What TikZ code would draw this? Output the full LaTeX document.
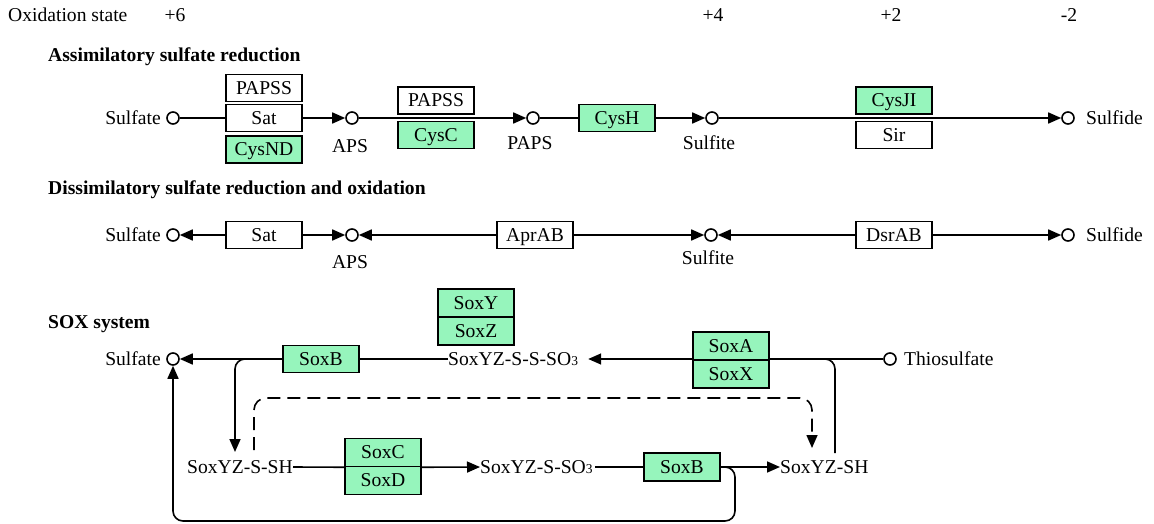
\documentclass[tikz,border=0pt]{standalone}
\usepackage{fontspec}
\setmainfont{Liberation Serif}
\usetikzlibrary{arrows.meta,backgrounds}
\definecolor{kgreen}{RGB}{150,245,188}
\newcommand{\sothree}{SO{\fontsize{13.5}{13.5}\selectfont 3}}
\begin{document}
\begin{tikzpicture}[x=1pt,y=-1pt,font=\fontsize{19.6}{22}\selectfont,
  lbl/.style={inner sep=0pt,text height=12.8pt,text depth=0pt},
  ttl/.style={inner sep=0pt,font=\fontsize{19.6}{22}\selectfont\bfseries,anchor=base west},
  box/.style={draw,line width=1.5pt,minimum width=76pt,minimum height=27pt,inner sep=0pt,text height=12.8pt,text depth=0pt},
  gbox/.style={box,fill=kgreen},
  wbox/.style={box,fill=white},
  met/.style={circle,draw,line width=1.6pt,minimum size=12pt,inner sep=0pt,fill=white},
  ln/.style={line width=1.6pt},
  arr/.style={ln,-{Triangle[length=13pt,width=11pt]}}]
\begin{scope}[on background layer]
\fill[white] (0,0) rectangle (1154,524);
\end{scope}
\useasboundingbox (0,0) rectangle (1154,524);

% oxidation states
\node[lbl,anchor=west] (ox) at (8,15) {Oxidation state};
\node[lbl] (o6) at (175,15) {+6};
\node[lbl] (o4) at (713,15) {+4};
\node[lbl] (o2) at (891,15) {+2};
\node[lbl] (om2) at (1069,15) {-2};

% ---------- Assimilatory ----------
\node[ttl] (t1) at (48,62) {Assimilatory sulfate reduction};
\node[met] (sulf1) at (173,118) {};
\node[lbl,anchor=east] (sulf1l) at (161,118) {Sulfate};
\node[wbox] (papss1) at (264,88) {PAPSS};
\node[wbox] (sat1) at (264,118) {Sat};
\node[gbox] (cysnd) at (264,149.5) {CysND};
\node[met] (aps1) at (352,118) {};
\node[lbl] (aps1l) at (350,146) {APS};
\node[wbox] (papss2) at (436,100.5) {PAPSS};
\node[gbox] (cysc) at (436,135) {CysC};
\node[met] (paps1) at (533,118) {};
\node[lbl] (paps1l) at (530,143) {PAPS};
\node[gbox] (cysh) at (617,118) {CysH};
\node[met] (sulfite1) at (712,118) {};
\node[lbl] (sulfite1l) at (709,143) {Sulfite};
\node[gbox] (cysji) at (894,100.5) {CysJI};
\node[wbox] (sir) at (894,135) {Sir};
\node[met] (sulfide1) at (1068,118) {};
\node[lbl,anchor=west] (sulfide1l) at (1086,118) {Sulfide};

\begin{scope}[on background layer]
\draw[ln] (sulf1.east) -- (sat1.west);
\draw[arr] (sat1.east) -- (aps1.west);
\draw[arr] (aps1.east) -- (paps1.west);
\draw[ln] (paps1.east) -- (cysh.west);
\draw[arr] (cysh.east) -- (sulfite1.west);
\draw[arr] (sulfite1.east) -- (sulfide1.west);
\end{scope}

% ---------- Dissimilatory ----------
\node[ttl] (t2) at (48,194) {Dissimilatory sulfate reduction and oxidation};
\node[met] (sulf2) at (173,235) {};
\node[lbl,anchor=east] (sulf2l) at (161,235) {Sulfate};
\node[wbox] (sat2) at (264,235) {Sat};
\node[met] (aps2) at (352,235) {};
\node[lbl] (aps2l) at (350,262) {APS};
\node[wbox] (apr) at (535,235) {AprAB};
\node[met] (sulfite2) at (711,235) {};
\node[lbl] (sulfite2l) at (708,258) {Sulfite};
\node[wbox] (dsr) at (894,235) {DsrAB};
\node[met] (sulfide2) at (1068,235) {};
\node[lbl,anchor=west] (sulfide2l) at (1086,235) {Sulfide};

\begin{scope}[on background layer]
\draw[arr] (sat2.west) -- (sulf2.east);
\draw[arr] (sat2.east) -- (aps2.west);
\draw[arr] (apr.west) -- (aps2.east);
\draw[arr] (apr.east) -- (sulfite2.west);
\draw[arr] (dsr.west) -- (sulfite2.east);
\draw[arr] (dsr.east) -- (sulfide2.west);
\end{scope}

% ---------- SOX ----------
\node[ttl] (t3) at (48,328) {SOX system};
\node[met] (sulf3) at (173,359) {};
\node[lbl,anchor=east] (sulf3l) at (161,359) {Sulfate};
\node[gbox] (soxb1) at (321,359) {SoxB};
\node[gbox,minimum height=28pt] (soxy) at (476,303) {SoxY};
\node[gbox,minimum height=28pt] (soxz) at (476,331) {SoxZ};
\node[lbl,anchor=west] (sssso) at (448,359) {SoxYZ-S-S-\sothree};
\node[gbox,minimum height=28pt] (soxa) at (731,346) {SoxA};
\node[gbox,minimum height=28pt] (soxx) at (731,374) {SoxX};
\node[met] (thio) at (890,359) {};
\node[lbl,anchor=west] (thiol) at (904,359) {Thiosulfate};

\node[lbl,anchor=east] (sssh) at (293,467) {SoxYZ-S-SH};
\node[gbox,minimum height=28pt] (soxc) at (383,452.5) {SoxC};
\node[gbox,minimum height=28pt] (soxd) at (383,480.5) {SoxD};
\node[lbl,anchor=west] (ssso) at (480,467) {SoxYZ-S-\sothree};
\node[gbox,minimum height=28pt] (soxb2) at (682,467) {SoxB};
\node[lbl,anchor=west] (ssh) at (780,467) {SoxYZ-SH};

\coordinate (br1) at (251,359);
\coordinate (tip1) at (235,452);
\coordinate (ds0) at (254,450);
\coordinate (ds1) at (812,398);
\coordinate (tip2) at (812,448);
\coordinate (br2) at (822,359);
\coordinate (end2) at (835,453);
\coordinate (lp) at (735,521);

\begin{scope}[on background layer]
\draw[ln] (sssso.west) -- (soxb1.east);
\draw[arr] (soxb1.west) -- (sulf3.east);
\draw[arr,rounded corners=10pt] (br1) -| (tip1);
\draw[arr] (thio.west) -- ([xshift=10pt]sssso.east);
\draw[ln,rounded corners=10pt] (br2) -| (end2);
\draw[arr,dash pattern=on 13pt off 7pt,rounded corners=12pt] (ds0) |- (ds1) -- (tip2);
\draw[ln] (sssh.east) -- (soxc.south west);
\draw[arr] (soxc.south east) -- (ssso.west);
\draw[ln] ([xshift=2pt]ssso.east) -- (soxb2.west);
\draw[arr] (soxb2.east) -- (ssh.west);
\draw[arr,rounded corners=10pt] (soxb2.east) -| (lp) -| (sulf3.south);
\end{scope}
\end{tikzpicture}
\end{document}
